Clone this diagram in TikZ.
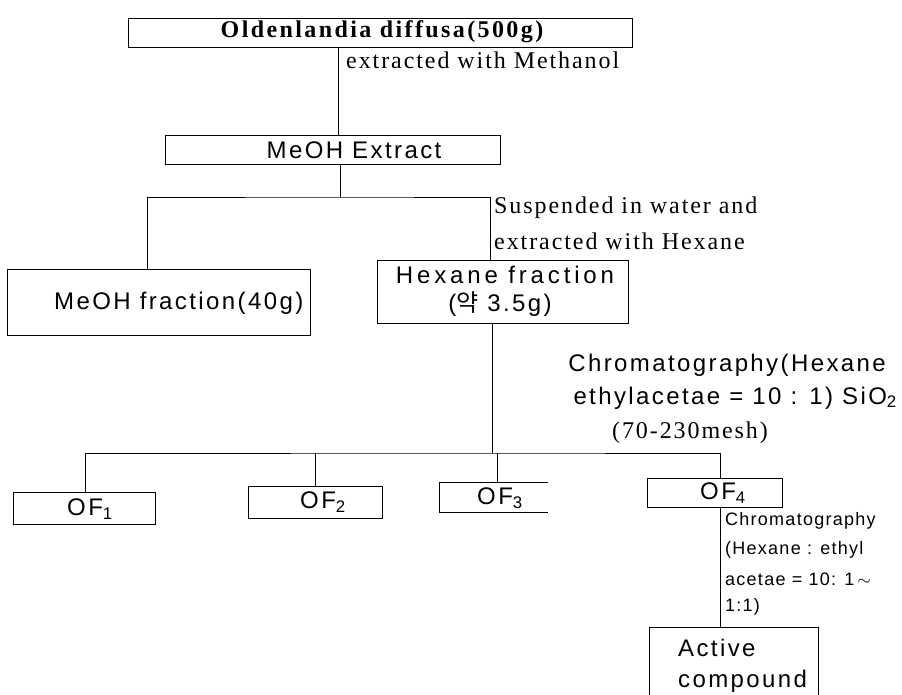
\documentclass[tikz,border=0pt]{standalone}
\usepackage{fontspec}
\usetikzlibrary{fit,calc}
\newfontfamily\serifw{Liberation Serif}[LetterSpace=8]
\newfontfamily\serifbw{Liberation Serif}[LetterSpace=10]
\newfontfamily\sansw{Liberation Sans}[LetterSpace=10]
\newfontfamily\sanswide{Liberation Sans}[LetterSpace=16]
\newfontfamily\sanss{Liberation Sans}[LetterSpace=7]
\newfontfamily\krfont{Noto Sans CJK KR}
\tikzset{
  box/.style={draw, line width=0.9pt, inner sep=0pt},
  hid/.style={inner sep=0pt},
  conn/.style={line width=0.9pt},
  serif/.style={inner sep=0pt, font=\serifw\fontsize{24}{28}\selectfont},
  big/.style={inner sep=0pt, font=\sansw\fontsize{24}{28}\selectfont},
  bigwide/.style={inner sep=0pt, font=\sanswide\fontsize{24}{28}\selectfont},
  small/.style={inner sep=0pt, font=\sanss\fontsize{18}{21}\selectfont},
}
\begin{document}
\begin{tikzpicture}[x=1pt,y=-1pt]
\useasboundingbox (0,0) rectangle (902,694);

% boxes
\node[box, fit={(128,18) (632,47)}] (od) {};
\node[box, fit={(165,135) (500,164)}] (me) {};
\node[box, fit={(7,269) (310,335)}] (mf) {};
\node[box, fit={(377,260) (628,323)}] (hf) {};
\node[box, fit={(13,492) (155,524)}] (of1) {};
\node[box, fit={(248,486) (382,518)}] (of2) {};
\node[hid, fit={(440,483) (548,512)}] (of3) {};
\node[box, fit={(647,478) (782,507)}] (of4) {};
\node[hid, fit={(650,628) (818,700)}] (ac) {};
\draw[conn] (of3.north east) -- (of3.north west) -- (of3.south west) -- (of3.south east);
\draw[conn] (ac.south west) -- (ac.north west) -- (ac.north east) -- (ac.south east);

% box texts
\node[inner sep=0pt, font=\serifbw\bfseries\fontsize{24}{28}\selectfont] (odt) at (382,32) {Oldenlandia diffusa(500g)};
\node[big] (met) at (354,150) {MeOH Extract};
\node[big, anchor=west] (mft) at (54,303) {MeOH fraction(40g)};
\node[bigwide] (hft1) at (505,275) {Hexane fraction};
\node[big] (hft2) at (500,304) {({\krfont 약} 3.5g)};
\node[big] (of1t) at (90,509) {OF\textsubscript{1}};
\node[big] (of2t) at (323,502) {OF\textsubscript{2}};
\node[big] (of3t) at (500,498) {OF\textsubscript{3}};
\node[big] (of4t) at (723,493) {OF\textsubscript{4}};
\node[big, anchor=west] (act1) at (678,648) {Active};
\node[big, anchor=west] (act2) at (678,681) {compound};

% step labels
\node[serif, anchor=west] (l1) at (346,60) {extracted with Methanol};
\node[serif, anchor=west] (l2) at (494,208) {Suspended in water and};
\node[serif, anchor=west] (l3) at (494,241) {extracted with Hexane};
\node[big, anchor=east] (l4) at (886,365) {Chromatography(Hexane};
\node[big, anchor=east] (l5) at (897,398) {ethylacetae = 10 : 1) SiO\textsubscript{2}};
\node[serif] (l6) at (690,433) {(70-230mesh)};
\node[small, anchor=west] (l7) at (725,521) {Chromatography};
\node[small, anchor=west] (l8) at (725,550) {(Hexane : ethyl};
\node[small, anchor=west] (l9) at (725,579) {acetae = 10: 1\,$\sim$};
\node[small, anchor=west] (l10) at (725,607) {1:1)};

% connectors
\coordinate (xa) at (338,0);
\draw[conn] (od.south -| xa) -- (me.north -| xa);
\coordinate (sp1) at (340,197);
\coordinate (xb) at (147,0);
\coordinate (xc) at (490,0);
\draw[conn] (me.south -| sp1) -- (sp1);
\draw[conn] (mf.north -| xb) |- (sp1) -| (hf.north -| xc);
\coordinate (sp2) at (492,453);
\coordinate (xd) at (85,0);
\coordinate (xe) at (315,0);
\coordinate (xf) at (497,0);
\coordinate (xg) at (720,0);
\draw[conn] (hf.south -| sp2) -- (sp2);
\draw[conn] (of1.north -| xd) |- (sp2) -| (of4.north -| xg);
\draw[conn] (of2.north -| xe) -- (xe |- sp2);
\draw[conn] (of3.north -| xf) -- (xf |- sp2);
\draw[conn] (of4.south -| xg) -- (ac.north -| xg);
\end{tikzpicture}
\end{document}
